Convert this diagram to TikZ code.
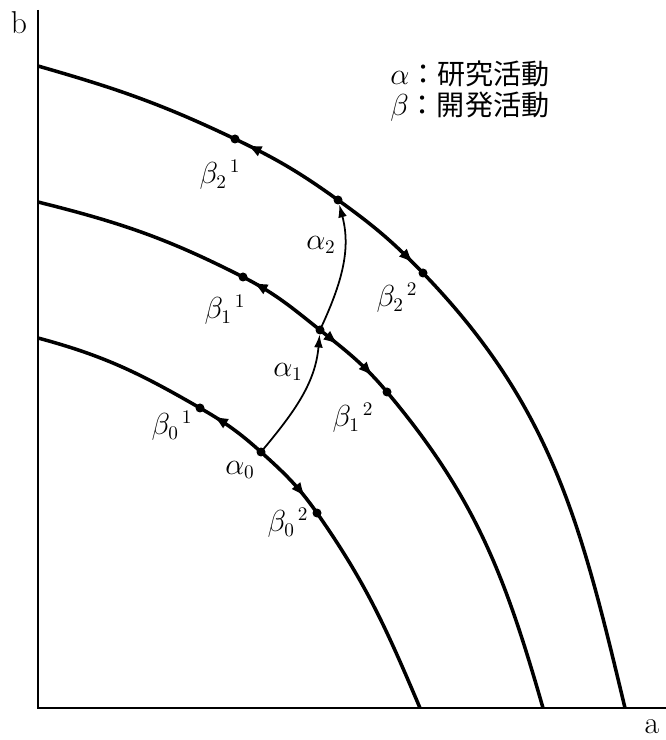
\documentclass[tikz,border=0pt]{standalone}
\usepackage{fontspec}
\newfontfamily\jpfont{Noto Sans CJK JP}
\usetikzlibrary{arrows.meta,decorations.markings}

\begin{document}
\begin{tikzpicture}[
  >={Latex[length=8.5pt,width=6.5pt]},
  curve/.style={line width=2pt},
  axis/.style={line width=1.3pt},
  rd/.style={line width=1pt,-{Latex[length=7.5pt,width=5pt]},shorten >=2.5pt},
  lbl/.style={font=\fontsize{16}{18}\selectfont,inner sep=0pt},
  key/.style={anchor=west,inner sep=0pt,font=\fontsize{16}{19}\selectfont}
]
\useasboundingbox (-0.76,-0.64) rectangle (12.56,14.16);

\coordinate (o) at (0,0);
\draw[axis] (0,13.96) -- (o) -- (12.56,0);
\node[font=\fontsize{18}{20}\selectfont,inner sep=0pt] (bl) at (-0.38,13.70) {b};
\node[font=\fontsize{18}{20}\selectfont,inner sep=0pt] (al) at (12.28,-0.38) {a};

\coordinate (s0) at (0,7.40);
\coordinate (l0) at (3.24,6.00);
\coordinate (m0) at (4.46,5.12);
\coordinate (r0) at (5.58,3.90);
\coordinate (e0) at (7.64,0);

\coordinate (s1) at (0,10.12);
\coordinate (l1) at (4.10,8.62);
\coordinate (m1) at (5.64,7.56);
\coordinate (r1) at (6.98,6.32);
\coordinate (e1) at (10.10,0);

\coordinate (s2) at (0,12.84);
\coordinate (l2) at (3.94,11.38);
\coordinate (m2) at (6.00,10.16);
\coordinate (r2) at (7.70,8.70);
\coordinate (e2) at (11.74,0);

\draw[curve,postaction={decorate},decoration={markings,
  mark=at position 3.85cm with {\arrowreversed{>}},
  mark=at position 6.32cm with {\arrow{>}}}]
  (s0) to[out=-15,in=150] (l0) to[out=-30,in=138] (m0)
  to[out=-42,in=125] (r0) to[out=-55,in=113] (e0);
\draw[curve,postaction={decorate},decoration={markings,
  mark=at position 4.60cm with {\arrowreversed{>}},
  mark=at position 6.72cm with {\arrow{>}},
  mark=at position 7.66cm with {\arrow{>}}}]
  (s1) to[out=-14,in=153] (l1) to[out=-27,in=141.5] (m1)
  to[out=-38.5,in=130] (r1) to[out=-50,in=106] (e1);
\draw[curve,postaction={decorate},decoration={markings,
  mark=at position 4.47cm with {\arrowreversed{>}},
  mark=at position 8.58cm with {\arrow{>}}}]
  (s2) to[out=-16,in=154.5] (l2) to[out=-25.5,in=144.3] (m2)
  to[out=-35.7,in=134] (r2) to[out=-46,in=103.5] (e2);

\foreach \p in {l0,m0,r0,l1,m1,r1,l2,m2,r2}
  \fill (\p) circle (0.09);

\draw[rd] (m0) to[out=50,in=-95] (m1);
\draw[rd] (m1) to[out=65,in=-75] (m2);

\node[lbl] (a0) at (4.04,4.76) {$\alpha_0$};
\node[lbl] (a1) at (5.00,6.72) {$\alpha_1$};
\node[lbl] (a2) at (5.66,9.26) {$\alpha_2$};
\node[lbl] (b01) at (2.68,5.64) {$\beta_0{}^{\,1}$};
\node[lbl] (b02) at (5.00,3.70) {$\beta_0{}^{\,2}$};
\node[lbl] (b11) at (3.74,7.96) {$\beta_1{}^{\,1}$};
\node[lbl] (b12) at (6.30,5.80) {$\beta_1{}^{\,2}$};
\node[lbl] (b21) at (3.64,10.66) {$\beta_2{}^{\,1}$};
\node[lbl] (b22) at (7.18,8.20) {$\beta_2{}^{\,2}$};

\node[key] (key1) at (7.04,12.68) {$\alpha$\jpfont ：研究活動};
\node[key] (key2) at (7.04,12.02) {$\beta$\jpfont ：開発活動};
\end{tikzpicture}
\end{document}
